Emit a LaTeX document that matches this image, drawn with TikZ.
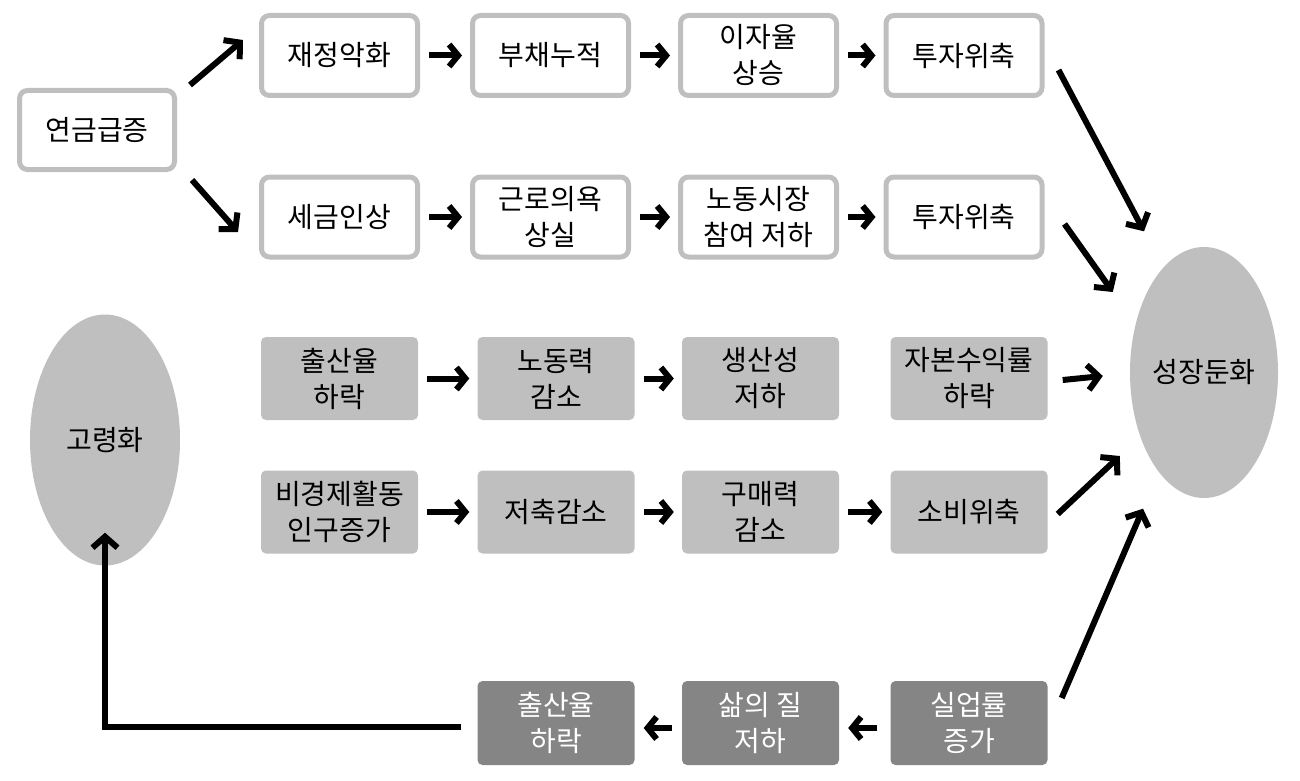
\documentclass[tikz,border=0pt]{standalone}
\usepackage{fontspec}
\setmainfont{Noto Sans CJK KR}
\usetikzlibrary{shapes.geometric,arrows.meta,calc}
\definecolor{lgray}{HTML}{BFBFBF}
\definecolor{dgray}{HTML}{858585}
\begin{document}
\begin{tikzpicture}[x=1pt,y=-1pt,
  txt/.style={font=\fontsize{28}{36}\selectfont,align=center,inner sep=0pt},
  wbox/.style={txt,draw=lgray,line width=5pt,fill=white,rounded corners=8pt,minimum width=156pt,minimum height=80pt},
  gbox/.style={txt,fill=lgray,rounded corners=5pt,minimum width=157pt,minimum height=83pt},
  dbox/.style={txt,fill=dgray,text=white,rounded corners=5pt,minimum width=157pt,minimum height=84pt},
  oval/.style={txt,ellipse,fill=lgray,inner sep=0pt},
  arr/.style={line width=6pt,-{Straight Barb[length=9pt,width=22pt]}},
  larr/.style={line width=6pt,-{Straight Barb[length=11pt,width=25pt]}}
]
\useasboundingbox (0,0) rectangle (1300,781);

% nodes
\node[wbox,minimum width=155pt,minimum height=79pt] (yj) at (97,130) {연금급증};

\node[wbox] (a1) at (339.5,55.5) {재정악화};
\node[wbox] (a2) at (550.5,55.5) {부채누적};
\node[wbox] (a3) at (758.5,55.5) {이자율\\상승};
\node[wbox] (a4) at (964,55.5) {투자위축};

\node[wbox] (b1) at (339.5,217) {세금인상};
\node[wbox] (b2) at (550.5,217) {근로의욕\\상실};
\node[wbox] (b3) at (758.5,217) {노동시장\\참여 저하};
\node[wbox] (b4) at (964,217) {투자위축};

\node[gbox] (c1) at (339.5,378.5) {출산율\\하락};
\node[gbox] (c2) at (556,378.5) {노동력\\감소};
\node[gbox] (c3) at (760.5,378.5) {생산성\\저하};
\node[gbox] (c4) at (969,378.5) {자본수익률\\하락};

\node[gbox] (d1) at (339.5,512) {비경제활동\\인구증가};
\node[gbox] (d2) at (556,512) {저축감소};
\node[gbox] (d3) at (760.5,512) {구매력\\감소};
\node[gbox] (d4) at (969,512) {소비위축};

\node[dbox] (e1) at (556,723) {출산율\\하락};
\node[dbox] (e2) at (760.5,723) {삶의 질\\저하};
\node[dbox] (e3) at (969,723) {실업률\\증가};

\node[oval,minimum width=150pt,minimum height=251pt] (old) at (105,440) {고령화};
\node[oval,minimum width=148pt,minimum height=251pt] (sj) at (1204,372.5) {성장둔화};

% row arrows
\foreach \s/\t in {a1/a2,a2/a3,a3/a4,b1/b2,b2/b3,b3/b4,c1/c2,c2/c3,d1/d2,d2/d3,d3/d4}
  \draw[arr] ([xshift=9pt]\s.east) -- ([xshift=-8pt]\t.west);
\draw[arr] ([xshift=-13pt,yshift=-5pt]e3.west) -- ([xshift=9pt,yshift=-5pt]e2.east);
\draw[arr] ([xshift=-10pt,yshift=-5pt]e2.west) -- ([xshift=9pt,yshift=-5pt]e1.east);

% diagonal arrows
\draw[larr] ($(yj.north east)+(13,-3)$) -- ($(a1.west)+(-16,-15.5)$);
\draw[larr] ($(yj.south east)+(15,8)$) -- ($(b1.west)+(-21,15)$);
\draw[larr] ($(a4.east)+(14,14.5)$) -- ($(sj.north)+(-60,-15.5)$);
\draw[larr] ($(b4.east)+(20,7)$) -- ($(sj.west)+(-17,-80.5)$);
\draw[larr] ($(c4.east)+(15,1.5)$) -- ($(sj.west)+(-27,3.5)$);
\draw[larr] ($(d4.east)+(10,2)$) -- ($(sj.west)+(-10,83.5)$);
\draw[larr] ($(e3.east)+(14,-25)$) -- ($(sj.south)+(-61,10.5)$);

% feedback loop
\draw[larr] ([xshift=-16pt,yshift=-4pt]e1.west) -| ([yshift=33pt]old.south);
\end{tikzpicture}
\end{document}
